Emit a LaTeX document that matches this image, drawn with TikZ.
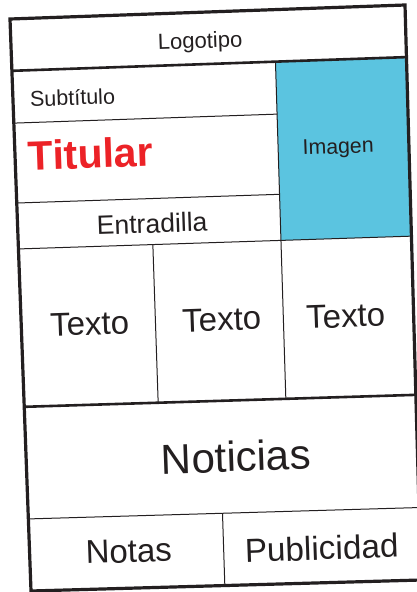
\documentclass[tikz,border=0pt]{standalone}
\usepackage{fontspec}
\setmainfont{Liberation Sans}
\usetikzlibrary{calc}
\definecolor{ink}{HTML}{231F20}
\definecolor{titred}{HTML}{EC2227}
\definecolor{imgblue}{HTML}{5BC4E0}
% named point on the (slightly skewed) page: name, s (across), t (down)
\newcommand\pagept[3]{\path ($(TL)!#3!(BL)$) coordinate (tmpL) ($(TR)!#3!(BR)$) coordinate (tmpR) ($(tmpL)!#2!(tmpR)$) coordinate (#1);}
\newcommand\fs[1]{\fontsize{#1}{#1}\selectfont}
\tikzset{
  outer/.style={draw=ink, line width=3.2pt, line join=miter},
  thickline/.style={draw=ink, line width=2.6pt},
  thinline/.style={draw=ink, line width=1pt},
  lbl/.style={text=ink, inner sep=0pt, rotate=2},
}
\begin{document}
\begin{tikzpicture}[x=1pt,y=-1pt]
\useasboundingbox (0,0) rectangle (417,592);
\clip (0,0) rectangle (417,592);
\fill[white] (0,0) rectangle (417,592);
\coordinate (TL) at (10,19);
\coordinate (TR) at (405,5);
\coordinate (BL) at (31,591);
\coordinate (BR) at (421,580);
% grid points
\pagept{logoL}{0}{0.0906}\pagept{logoR}{1}{0.0906}
\pagept{imgTL}{0.668}{0.0906}
\pagept{subL}{0}{0.182}\pagept{subR}{0.668}{0.182}
\pagept{titL}{0}{0.3217}\pagept{titR}{0.668}{0.3217}
\pagept{entL}{0}{0.402}\pagept{entR}{1}{0.402}\pagept{imgBL}{0.668}{0.402}
\pagept{c1T}{0.342}{0.402}\pagept{c1B}{0.342}{0.678}
\pagept{c2B}{0.668}{0.678}
\pagept{txtL}{0}{0.678}\pagept{txtR}{1}{0.678}
\pagept{notL}{0}{0.874}\pagept{notR}{1}{0.874}
\pagept{nbT}{0.497}{0.874}\pagept{nbB}{0.497}{1}
% image area
\fill[imgblue] (imgTL) -- (logoR) -- (entR) -- (imgBL) -- cycle;
% inner lines
\draw[thinline] (subL) -- (subR);
\draw[thinline] (titL) -- (titR);
\draw[thinline] (entL) -- (entR);
\draw[thinline] (imgTL) -- (imgBL);
\draw[thinline] (c1T) -- (c1B);
\draw[thinline] (imgBL) -- (c2B);
\draw[thinline] (notL) -- (notR);
\draw[thinline] (nbT) -- (nbB);
\draw[thickline] (logoL) -- (logoR);
\draw[thickline] (txtL) -- (txtR);
% outer border
\draw[outer] (TL) -- (TR) -- (BR) -- (BL) -- cycle;
% label positions
\pagept{pLogo}{0.479}{0.0628}
\pagept{pSub}{0.043}{0.1544}
\pagept{pTit}{0.033}{0.2657}
\pagept{pImg}{0.8205}{0.2545}
\pagept{pEnt}{0.201}{0.382}
\pagept{pT1}{0.174}{0.556}
\pagept{pT2}{0.511}{0.556}
\pagept{pT3}{0.827}{0.557}
\pagept{pNot}{0.536}{0.802}
\pagept{pNotas}{0.254}{0.955}
\pagept{pPub}{0.748}{0.96}
\node[lbl, font=\fs{22}, anchor=base] (logo) at (pLogo) {Logotipo};
\node[lbl, font=\fs{21.5}, anchor=base west] (sub) at (pSub) {Subtítulo};
\node[lbl, font=\fs{41}\bfseries, text=titred, anchor=base west] (tit) at (pTit) {Titular};
\node[lbl, font=\fs{21.3}, anchor=base] (img) at (pImg) {Imagen};
\node[lbl, font=\fs{26.5}, anchor=base west] (ent) at (pEnt) {Entradilla};
\node[lbl, font=\fs{33}, anchor=base] (t1) at (pT1) {Texto};
\node[lbl, font=\fs{33}, anchor=base] (t2) at (pT2) {Texto};
\node[lbl, font=\fs{33}, anchor=base] (t3) at (pT3) {Texto};
\node[lbl, font=\fs{42}, anchor=base] (noti) at (pNot) {Noticias};
\node[lbl, font=\fs{33}, anchor=base] (notas) at (pNotas) {Notas};
\node[lbl, font=\fs{33.3}, anchor=base] (pub) at (pPub) {Publicidad};
\end{tikzpicture}
\end{document}
